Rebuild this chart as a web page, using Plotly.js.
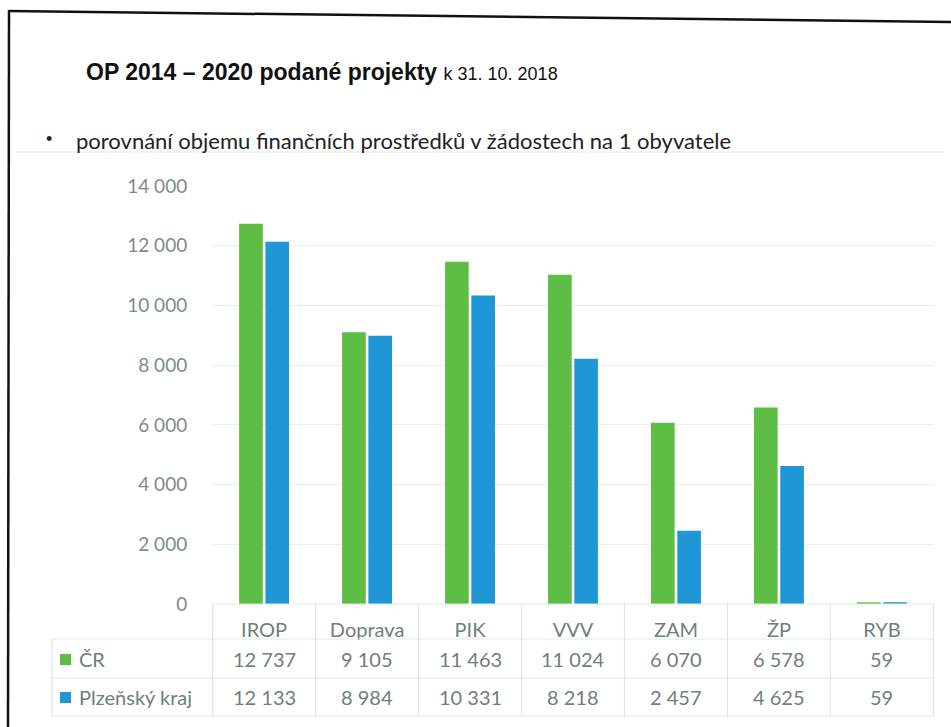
<!DOCTYPE html>
<html>
<head>
<meta charset="utf-8">
<script src="https://cdn.plot.ly/plotly-3.0.1.min.js"></script>
<style>html,body{margin:0;padding:0;background:#fff;}#chart{width:951px;height:727px;}</style>
</head>
<body>
<div id="chart"></div>
<script>
// ---- data ----
const categories = ["IROP", "Doprava", "PIK", "VVV", "ZAM", "ŽP", "RYB"];
const seriesNames = ["ČR", "Plzeňský kraj"];
const valuesCR = [12737, 9105, 11463, 11024, 6070, 6578, 59];
const valuesPlzen = [12133, 8984, 10331, 8218, 2457, 4625, 59];
const yTicks = [0, 2000, 4000, 6000, 8000, 10000, 12000, 14000];
const titleMain = "OP 2014 – 2020 podané projekty";
const titleDate = "k 31. 10. 2018";
const bulletText = "porovnání objemu finančních prostředků v žádostech na 1 obyvatele";

// ---- styling ----
const W = 951, H = 727;
const GREEN = "#5dbd44", BLUE = "#1f97d6";
const TXT = "#6f7f79";
const LINE = "#dfe7e6";
const FONT = "Lato, 'Open Sans', sans-serif";
const px = x => x / W;
const py = y => 1 - y / H;
const fmt = v => String(v).replace(/\B(?=(\d{3})+(?!\d))/g, "\u00a0");

const traces = [
  {type: "bar", name: seriesNames[0], x: categories, y: valuesCR, marker: {color: GREEN}, hoverinfo: "none"},
  {type: "bar", name: seriesNames[1], x: categories, y: valuesPlzen, marker: {color: BLUE}, hoverinfo: "none"}
];

const shapes = [];
const annotations = [];

// page frame (scan border)
shapes.push({type: "line", xref: "paper", yref: "paper", x0: px(9), y0: py(11), x1: px(951), y1: py(22), line: {color: "#111", width: 2.5}});
shapes.push({type: "line", xref: "paper", yref: "paper", x0: px(9), y0: py(10), x1: px(8), y1: py(727), line: {color: "#111", width: 2.5}});
// faint separator under bullet
shapes.push({type: "line", xref: "paper", yref: "paper", x0: px(15), y0: py(152), x1: px(945), y1: py(152), line: {color: "#eef1f1", width: 1.5}});

// data table lines
const tTop = 604, tHead = 639, tMid = 678, tBot = 716, tLeft = 52, tRight = 934;
shapes.push({type: "line", xref: "paper", yref: "paper", x0: px(212), x1: px(tRight), y0: py(tTop), y1: py(tTop), line: {color: LINE, width: 1.2}});
[tHead, tMid, tBot].forEach(yy => shapes.push({type: "line", xref: "paper", yref: "paper", x0: px(tLeft), x1: px(tRight), y0: py(yy), y1: py(yy), line: {color: LINE, width: 1.2}}));
for (let i = 0; i <= categories.length; i++) {
  shapes.push({type: "line", xref: "x", yref: "paper", x0: i - 0.5, x1: i - 0.5, y0: py(tTop), y1: py(tBot), line: {color: LINE, width: 1.2}});
}
shapes.push({type: "line", xref: "paper", yref: "paper", x0: px(tLeft), x1: px(tLeft), y0: py(tHead), y1: py(tBot), line: {color: LINE, width: 1.2}});

// table rows
const rows = [{vals: valuesCR, color: GREEN, yc: 659}, {vals: valuesPlzen, color: BLUE, yc: 697}];
rows.forEach((r, k) => {
  shapes.push({type: "rect", xref: "paper", yref: "paper", x0: px(60), x1: px(71), y0: py(r.yc - 5), y1: py(r.yc + 6), fillcolor: r.color, line: {width: 0}});
  annotations.push({xref: "paper", yref: "paper", x: px(77), y: py(r.yc), xanchor: "left", yanchor: "middle", text: seriesNames[k], showarrow: false, font: {family: FONT, size: 20, color: TXT}});
  r.vals.forEach((v, i) => {
    annotations.push({xref: "x", yref: "paper", x: categories[i], y: py(r.yc), xanchor: "center", yanchor: "middle", text: fmt(v), showarrow: false, font: {family: FONT, size: 20, color: TXT}});
  });
});

// bullet line
annotations.push({xref: "paper", yref: "paper", x: px(44), y: py(139), xanchor: "left", yanchor: "middle", text: "•", showarrow: false, font: {family: "Liberation Sans, Arial", size: 18, color: "#222"}});
annotations.push({xref: "paper", yref: "paper", x: px(74), y: py(140), xanchor: "left", yanchor: "middle", text: bulletText, showarrow: false, font: {family: FONT, size: 22, color: "#222"}});

const layout = {
  width: W, height: H,
  margin: {l: 0, r: 0, t: 0, b: 0},
  paper_bgcolor: "#fff", plot_bgcolor: "#fff",
  showlegend: false,
  title: {
    text: "<b>" + titleMain + "</b> <span style='font-size:18px'>" + titleDate + "</span>",
    xref: "paper", yref: "paper", x: px(86), y: py(72), xanchor: "left", yanchor: "middle",
    font: {family: "Liberation Sans, Arial, sans-serif", size: 23, color: "#111"}
  },
  barmode: "group", bargap: 0.49, bargroupgap: 0.1,
  xaxis: {
    domain: [px(212), px(934)], type: "category",
    showgrid: false, zeroline: false, showline: false,
    ticks: "outside", ticklen: 8, tickcolor: "rgba(0,0,0,0)",
    tickfont: {family: FONT, size: 20, color: TXT}, fixedrange: true
  },
  yaxis: {
    domain: [py(604), py(186)], range: [0, 14000],
    tickvals: yTicks, ticktext: yTicks.map(fmt),
    showgrid: true, gridcolor: "#e9efee", gridwidth: 1.2,
    zeroline: false, showline: false,
    ticks: "outside", ticklen: 20, tickcolor: "rgba(0,0,0,0)",
    tickfont: {family: FONT, size: 19, color: "#7d8c86"}, fixedrange: true
  },
  shapes: shapes,
  annotations: annotations
};

Plotly.newPlot("chart", traces, layout, {displayModeBar: false, staticPlot: true});
</script>
</body>
</html>
